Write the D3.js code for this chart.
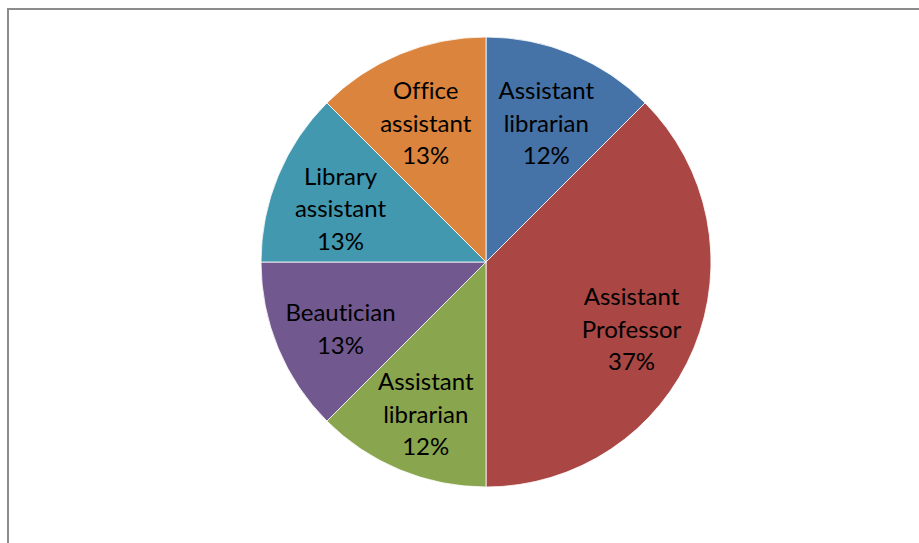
<!DOCTYPE html>
<html lang="en">
	<head>
		<meta charset="UTF-8">
		<title>Pie Chart</title>
		<script src="https://cdn.jsdelivr.net/npm/d3@7"></script>
		<style>
			body { margin: 0; background: #fff; }
			svg { display: block; }
			text { font-variant-ligatures: none; font-feature-settings: "liga" 0; }
		</style>
	</head>
	<body>
		<div id="chart"></div>
		<script>
			const categories = ["Assistant librarian", "Assistant Professor", "Assistant librarian", "Beautician", "Library assistant", "Office assistant"];
			const labelLines = [["Assistant", "librarian"], ["Assistant", "Professor"], ["Assistant", "librarian"], ["Beautician"], ["Library", "assistant"], ["Office", "assistant"]];
			const counts = [1, 3, 1, 1, 1, 1];
			const percentLabels = ["12%", "37%", "12%", "13%", "13%", "13%"];
			const colors = ["#4572a7", "#aa4643", "#89a54e", "#71588f", "#4198af", "#db843d"];

			const w = 919;
			const h = 543;
			const cx = 486;
			const cy = 262;
			const r = 225;

			const svg = d3.select("#chart")
						  .append("svg")
						  .attr("width", w)
						  .attr("height", h);

			// chart frame (top and left edges visible)
			svg.append("path")
			   .attr("d", `M8,${h} L8,9 L${w},9`)
			   .attr("fill", "none")
			   .attr("stroke", "#8c8c8c")
			   .attr("stroke-width", 2);

			const data = categories.map((c, i) => ({ name: c, lines: labelLines[i], value: counts[i], pct: percentLabels[i], color: colors[i] }));

			const pie = d3.pie()
						  .value(d => d.value)
						  .sort(null);

			const arc = d3.arc()
						  .innerRadius(0)
						  .outerRadius(r);

			const labelArc = d3.arc()
							   .innerRadius(r * 0.7)
							   .outerRadius(r * 0.7);

			const g = svg.append("g")
						 .attr("transform", `translate(${cx}, ${cy})`);

			const arcs = pie(data);

			g.selectAll("path.slice")
			 .data(arcs)
			 .enter()
			 .append("path")
			 .attr("class", "slice")
			 .attr("d", arc)
			 .attr("fill", d => d.data.color)
			 .attr("stroke", "#ffffff")
			 .attr("stroke-width", 0.8);

			const lineH = 32.5;
			const labelShift = 7; // excel sits the labels a bit low
			const labels = g.selectAll("text.label")
							.data(arcs)
							.enter()
							.append("text")
							.attr("class", "label")
							.attr("text-anchor", "middle")
							.attr("font-family", "Lato, 'Open Sans', sans-serif")
							.attr("font-size", 24)
							.attr("fill", "#000");

			labels.each(function (d) {
				const [x, y] = labelArc.centroid(d);
				const lines = d.data.lines.concat([d.data.pct]);
				const top = y + labelShift - (lines.length - 1) * lineH / 2;
				const t = d3.select(this);
				lines.forEach((ln, i) => {
					t.append("tspan")
					 .attr("x", x)
					 .attr("y", top + i * lineH)
					 .attr("dy", "0.35em")
					 .text(ln);
				});
			});
		</script>
	</body>
</html>
